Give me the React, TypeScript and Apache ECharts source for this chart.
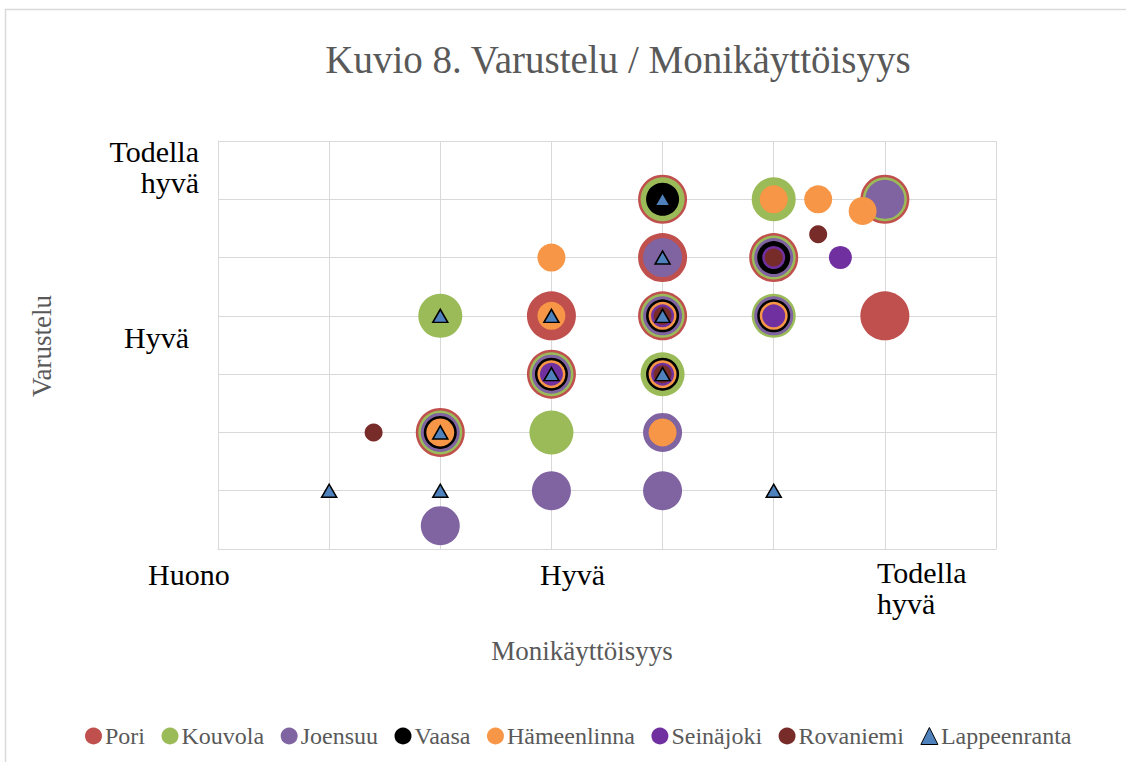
import React, { useEffect, useRef } from "react";
import * as echarts from "echarts";

// Data: [Monikäyttöisyys, Varustelu]
const seriesNames = ["Pori", "Kouvola", "Joensuu", "Vaasa", "Hämeenlinna", "Seinäjoki", "Rovaniemi", "Lappeenranta"];
const pori = [[4, 6], [6, 6], [4, 5], [5, 5], [3, 4], [4, 4], [6, 4], [3, 3], [2, 2]];
const kouvola = [[4, 6], [5, 6], [6, 6], [5, 5], [2, 4], [4, 4], [5, 4], [3, 3], [4, 3], [2, 2], [3, 2]];
const joensuu = [[6, 6], [4, 5], [5, 5], [4, 4], [5, 4], [3, 3], [2, 2], [4, 2], [3, 1], [4, 1], [2, 0.4]];
const vaasa = [[4, 6], [5, 5], [4, 4], [5, 4], [3, 3], [4, 3], [2, 2]];
const hameenlinna = [[5, 6], [5.4, 6], [5.8, 5.8], [3, 5], [3, 4], [4, 4], [5, 4], [3, 3], [4, 3], [2, 2], [4, 2]];
const seinajoki = [[5.6, 5], [5, 5], [4, 4], [5, 4], [3, 3], [4, 3]];
const rovaniemi = [[5.4, 5.4], [5, 5], [4, 4], [4, 3], [1.4, 2]];
const lappeenranta = [[4, 6], [4, 5], [2, 4], [3, 4], [4, 4], [3, 3], [4, 3], [2, 2], [1, 1], [2, 1], [5, 1]];

const xTickLabels = ["Huono", "Hyvä", "Todella\nhyvä"];
const yTickLabels = ["Hyvä", "Todella\nhyvä"];
const titleText = "Kuvio 8. Varustelu / Monikäyttöisyys";
const xAxisTitle = "Monikäyttöisyys";
const yAxisTitle = "Varustelu";

const colors = ["#C0504D", "#9BBB59", "#8064A2", "#000000", "#F79646", "#7030A0", "#772C2A", "#4F81BD"];
const sizes = [49, 44, 39, 33, 28, 23, 18];

const FONT = "'Liberation Serif', 'Times New Roman', serif";

export default function App() {
  const ref = useRef<HTMLDivElement>(null);
  useEffect(() => {
    if (!ref.current) return;
    const chart = echarts.init(ref.current, null, { renderer: "svg" });
    const dataSets = [pori, kouvola, joensuu, vaasa, hameenlinna, seinajoki, rovaniemi, lappeenranta];
    const series: any[] = dataSets.map((d, i) => {
      const isTri = i === 7;
      return {
        name: seriesNames[i],
        type: "scatter",
        data: d,
        symbol: isTri ? "triangle" : "circle",
        symbolSize: isTri ? [15, 13] : sizes[i],
        z: 2 + i,
        itemStyle: isTri
          ? { color: colors[i], borderColor: "#000000", borderWidth: 1.5, opacity: 1 }
          : { color: colors[i], opacity: 1 },
        emphasis: { disabled: true },
      };
    });
    const txt = (text: string, x: number, y: number, opts: any = {}) => ({
      type: "text",
      x,
      y,
      silent: true,
      rotation: opts.rotation || 0,
      style: {
        text,
        fill: opts.color || "#000000",
        font: `${opts.size || 30}px ${FONT}`,
        align: opts.align || "center",
        verticalAlign: opts.vAlign || "middle",
        lineHeight: opts.lineHeight,
      },
    });
    const option: any = {
      animation: false,
      backgroundColor: "#ffffff",
      grid: { left: 218, top: 141, width: 778, height: 408, show: false },
      xAxis: {
        type: "value",
        min: 0,
        max: 7,
        interval: 1,
        axisLabel: { show: false },
        axisTick: { show: false },
        axisLine: { show: true, lineStyle: { color: "#D9D9D9", width: 1 } },
        splitLine: { show: true, lineStyle: { color: "#D9D9D9", width: 1 } },
      },
      yAxis: {
        type: "value",
        min: 0,
        max: 7,
        interval: 1,
        axisLabel: { show: false },
        axisTick: { show: false },
        axisLine: { show: true, lineStyle: { color: "#D9D9D9", width: 1 } },
        splitLine: { show: true, lineStyle: { color: "#D9D9D9", width: 1 } },
      },
      legend: {
        data: seriesNames.map((n, i) =>
          i === 7
            ? { name: n, icon: "triangle", itemStyle: { color: colors[7], borderColor: "#000", borderWidth: 1 } }
            : { name: n, icon: "circle" }
        ),
        left: 80,
        top: 719,
        itemWidth: 17,
        itemHeight: 17,
        itemGap: 16.5,
        textStyle: { fontFamily: FONT, fontSize: 24, color: "#595959", padding: [0, 0, 0, -2] },
        selectedMode: false,
      },
      graphic: [
        {
          type: "rect",
          silent: true,
          shape: { x: 5.5, y: 9.5, width: 1200, height: 800 },
          style: { fill: "none", stroke: "#D9D9D9", lineWidth: 1.5 },
        },
        txt(titleText, 618, 59, { size: 39, color: "#595959" }),
        txt(xAxisTitle, 582, 651, { size: 27, color: "#595959" }),
        txt(yAxisTitle, 42, 346, { size: 27, color: "#595959", rotation: Math.PI / 2 }),
        txt(xTickLabels[0], 148, 574, { align: "left" }),
        txt(xTickLabels[1], 540, 574, { align: "left" }),
        txt(xTickLabels[2], 877, 557, { align: "left", vAlign: "top", lineHeight: 31 }),
        txt(yTickLabels[0], 189, 337, { align: "right" }),
        txt(yTickLabels[1], 199, 136, { align: "right", vAlign: "top", lineHeight: 31 }),
      ],
      series,
    };
    chart.setOption(option);
    return () => chart.dispose();
  }, []);
  return (
    <div
      ref={ref}
      style={{ position: "fixed", left: 0, top: 0, width: 1126, height: 762, background: "#fff" }}
    />
  );
}
